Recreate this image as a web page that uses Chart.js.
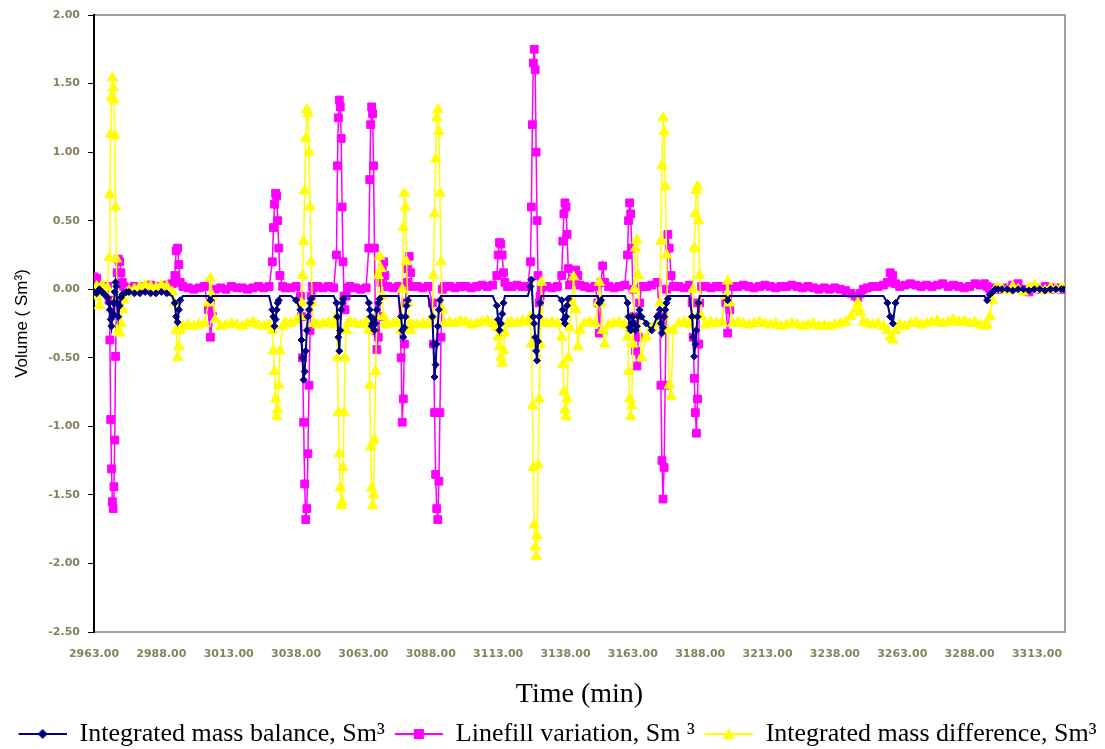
<!DOCTYPE html>
<html>
<head>
<meta charset="utf-8">
<script src="https://cdn.jsdelivr.net/npm/chart.js@4.4.0/dist/chart.umd.min.js"></script>
<style>
  html, body { margin: 0; padding: 0; background: #fff; }
  #wrap { width: 1105px; height: 749px; }
</style>
</head>
<body>
<div id="wrap"><canvas id="canvas" width="1105" height="749"></canvas></div>
<script>
// time (min), one entry per sample, shared by the three series
const times = [
  2963, 2964, 2965, 2966, 2967, 2968, 2968.6,
  2968.9, 2969.2, 2969.5, 2969.8, 2970.1, 2970.4, 2970.7, 2971.0, 2971.3, 2971.6,
  2972, 2972.5, 2973, 2973.5, 2974, 2975, 2976,
  2978, 2980, 2982, 2984, 2986, 2988, 2990, 2992,
  2993, 2993.5, 2994, 2994.5, 2995, 2996,
  2998, 3000, 3002, 3004,
  3005.5, 3006.2, 3007, 3008,
  3010, 3012, 3014, 3016, 3018, 3020, 3022, 3024, 3026, 3028,
  3029.2, 3029.6, 3030, 3030.4, 3030.8, 3031.2, 3031.6, 3032, 3033,
  3034, 3036, 3038,
  3039.6, 3040, 3040.4, 3040.8, 3041.2, 3041.6, 3042, 3042.4, 3042.8, 3043.2, 3043.6, 3044, 3044.5,
  3046, 3048, 3050, 3052,
  3053, 3053.35, 3053.7, 3054.05, 3054.4, 3054.75, 3055.1, 3055.45, 3055.8, 3056.2, 3056.6, 3057.2,
  3058, 3060, 3062, 3064,
  3065, 3065.35, 3065.7, 3066.05, 3066.4, 3066.75, 3067.1, 3067.5, 3068, 3068.5, 3069, 3069.5, 3070, 3070.5, 3071, 3072,
  3074, 3076,
  3077, 3077.4, 3077.8, 3078.2, 3078.6, 3079, 3079.5, 3080, 3080.5, 3081.2,
  3083, 3085, 3087,
  3088.6, 3089, 3089.4, 3089.8, 3090.2, 3090.6, 3091, 3091.4, 3091.8, 3092.3, 3093,
  3095, 3097, 3099, 3101, 3103, 3105, 3107, 3109, 3111,
  3112.5, 3113, 3113.5, 3114, 3114.5, 3115, 3115.5, 3116.5,
  3118, 3120, 3122, 3124,
  3125, 3125.35, 3125.7, 3126.05, 3126.4, 3126.75, 3127.1, 3127.45, 3127.8, 3128.2, 3128.6, 3129, 3129.6,
  3131, 3133, 3135,
  3136.6, 3137, 3137.4, 3137.8, 3138.2, 3138.6, 3139, 3139.5,
  3140.2, 3141, 3141.8, 3142.6, 3143.4,
  3145, 3147, 3149,
  3150, 3150.6, 3151.2, 3151.8, 3152.5,
  3154, 3156, 3158, 3160,
  3161, 3161.4, 3161.8, 3162.2, 3162.6, 3163, 3163.5, 3164, 3164.5, 3165, 3165.5, 3166.2,
  3168, 3170, 3172,
  3173, 3173.4, 3173.8, 3174.2, 3174.6, 3175, 3175.5, 3176, 3176.5, 3177.2, 3178,
  3180, 3182, 3184,
  3185, 3185.4, 3185.8, 3186.2, 3186.6, 3187, 3187.4, 3187.8, 3188.5,
  3190, 3192, 3194, 3196,
  3197.5, 3198.2, 3199, 3200,
  3202, 3204, 3206, 3208, 3210, 3212, 3214, 3216, 3218, 3220, 3222,
  3224, 3226, 3228, 3230, 3232, 3234, 3236, 3238, 3240, 3242, 3244,
  3245.5, 3246.5, 3247.5, 3248.5,
  3250, 3252, 3254, 3256,
  3257.5, 3258.5, 3259.5, 3260.5,
  3262, 3264, 3266, 3268, 3270, 3272, 3274, 3276, 3278, 3280, 3282, 3284, 3286, 3288, 3290, 3292,
  3293.5, 3294.5, 3295.5, 3296.5, 3297.5, 3298.5,
  3300, 3302, 3304, 3306, 3308, 3310, 3312, 3314, 3316, 3318, 3320, 3322, 3323
];

// Integrated mass balance, Sm3
const massBalance = [
  -0.02, -0.03, 0.00, -0.02, -0.04, -0.06, -0.10,
  -0.15, -0.22, -0.27, -0.20, -0.18, -0.10, -0.02, 0.05, 0.02, -0.10,
  -0.20, -0.12, -0.06, -0.04, -0.03, -0.02, -0.02,
  -0.03, -0.03, -0.02, -0.03, -0.03, -0.02, -0.03, -0.05,
  -0.10, -0.20, -0.24, -0.15, -0.08, -0.05,
  -0.05, -0.05, -0.05, -0.05,
  -0.05, -0.08, -0.05, -0.05,
  -0.05, -0.05, -0.05, -0.05, -0.05, -0.05, -0.05, -0.05, -0.05, -0.05,
  -0.15, -0.20, -0.27, -0.22, -0.15, -0.10, -0.08, -0.05, -0.05,
  -0.05, -0.05, -0.08,
  -0.15, -0.37, -0.50, -0.66, -0.60, -0.45, -0.30, -0.20, -0.15, -0.10, -0.07, -0.05, -0.05,
  -0.05, -0.05, -0.05, -0.05,
  -0.10, -0.20, -0.35, -0.45, -0.30, -0.15, -0.10, -0.07, -0.05, -0.05, -0.05, -0.05,
  -0.05, -0.05, -0.05, -0.05,
  -0.10, -0.15, -0.20, -0.27, -0.25, -0.22, -0.30, -0.25, -0.15, -0.10, -0.07, -0.05, -0.05, -0.05, -0.05, -0.05,
  -0.05, -0.05,
  -0.20, -0.30, -0.35, -0.28, -0.20, -0.12, -0.08, -0.05, -0.05, -0.05,
  -0.05, -0.05, -0.05,
  -0.20, -0.40, -0.64, -0.55, -0.40, -0.27, -0.15, -0.08, -0.05, -0.05, -0.05,
  -0.05, -0.05, -0.05, -0.05, -0.05, -0.05, -0.05, -0.05, -0.05,
  -0.12, -0.22, -0.30, -0.25, -0.18, -0.10, -0.05, -0.05,
  -0.05, -0.05, -0.05, -0.05,
  0.02, 0.07, -0.05, -0.20, -0.25, -0.35, -0.45, -0.52, -0.38, -0.20, -0.10, -0.05, -0.05,
  -0.05, -0.05, -0.05,
  -0.08, -0.15, -0.22, -0.25, -0.20, -0.12, -0.07, -0.05,
  -0.05, -0.05, -0.05, -0.05, -0.05,
  -0.05, -0.05, -0.05,
  -0.05, -0.10, -0.08, -0.05, -0.05,
  -0.05, -0.05, -0.05, -0.05,
  -0.10, -0.20, -0.28, -0.30, -0.25, -0.20, -0.25, -0.30, -0.27, -0.20, -0.15, -0.20,
  -0.25, -0.30, -0.20,
  -0.15, -0.25, -0.32, -0.28, -0.20, -0.15, -0.10, -0.07, -0.05, -0.05, -0.05,
  -0.05, -0.05, -0.05,
  -0.20, -0.35, -0.49, -0.40, -0.30, -0.20, -0.10, -0.05, -0.05,
  -0.05, -0.05, -0.05, -0.05,
  -0.05, -0.08, -0.05, -0.05,
  -0.05, -0.05, -0.05, -0.05, -0.05, -0.05, -0.05, -0.05, -0.05, -0.05, -0.05,
  -0.05, -0.05, -0.05, -0.05, -0.05, -0.05, -0.05, -0.05, -0.05, -0.05, -0.05,
  -0.05, -0.05, -0.05, -0.05,
  -0.05, -0.05, -0.05, -0.05,
  -0.10, -0.20, -0.25, -0.10,
  -0.05, -0.05, -0.05, -0.05, -0.05, -0.05, -0.05, -0.05, -0.05, -0.05, -0.05, -0.05, -0.05, -0.05, -0.05, -0.05,
  -0.05, -0.08, -0.04, -0.02, 0.00, 0.00,
  0.00, 0.00, -0.01, 0.00, 0.00, -0.01, 0.00, 0.00, -0.01, 0.00, 0.00, 0.00, 0.00
];

// Linefill variation, Sm3
const linefill = [
  0.09, 0.08, 0.03, 0.02, 0.01, 0.02, -0.08,
  -0.37, -0.95, -1.31, -1.55, -1.60, -1.44, -1.10, -0.49, -0.10, 0.12,
  0.22, 0.20, 0.12, 0.05, 0.02, 0.00, 0.01,
  0.02, 0.01, 0.02, 0.03, 0.02, 0.02, 0.03, 0.04,
  0.10, 0.28, 0.30, 0.18, 0.05, 0.02,
  0.01, 0.00, 0.01, 0.02,
  -0.15, -0.35, -0.20, 0.00,
  0.01, 0.00, 0.02, 0.01, 0.01, 0.00, 0.01, 0.02, 0.01, 0.02,
  0.20, 0.45, 0.62, 0.70, 0.68, 0.50, 0.30, 0.10, 0.02,
  0.01, 0.01, 0.02,
  -0.05, -0.20, -0.50, -0.97, -1.42, -1.68, -1.60, -1.20, -0.70, -0.30, -0.05, 0.02, 0.01,
  0.02, 0.01, 0.02, 0.01,
  0.25, 0.90, 1.25, 1.38, 1.33, 1.10, 0.60, 0.20, -0.05, -0.15, -0.05, 0.01,
  0.02, 0.01, 0.00, 0.01,
  0.30, 0.80, 1.20, 1.33, 1.28, 0.90, 0.30, -0.30, -0.44, -0.35, -0.20, 0.05, 0.15, 0.20, 0.10, 0.02,
  0.01, 0.02,
  -0.50, -0.97, -0.80, -0.40, -0.10, 0.05, 0.15, 0.24, 0.12, 0.02,
  0.02, 0.01, 0.02,
  -0.10, -0.40, -0.90, -1.35, -1.60, -1.68, -1.40, -0.90, -0.35, 0.00, 0.02,
  0.02, 0.01, 0.02, 0.02, 0.01, 0.02, 0.03, 0.02, 0.03,
  0.10, 0.25, 0.34, 0.33, 0.25, 0.12, 0.05, 0.02,
  0.02, 0.03, 0.02, 0.02,
  0.20, 0.60, 1.20, 1.65, 1.75, 1.60, 1.00, 0.50, 0.10, -0.10, -0.05, 0.01, 0.02,
  0.02, 0.01, 0.02,
  0.10, 0.35, 0.55, 0.63, 0.60, 0.40, 0.15, 0.03,
  0.05, 0.08, 0.14, 0.10, 0.03,
  0.02, 0.01, 0.02,
  -0.10, -0.32, 0.05, 0.17, 0.05,
  0.02, 0.01, 0.02, 0.03,
  0.25, 0.50, 0.63, 0.55, 0.30, 0.00, -0.20, -0.45, -0.56, -0.35, -0.10, 0.02,
  0.02, 0.03, 0.05,
  -0.20, -0.70, -1.25, -1.53, -1.30, -0.70, 0.00, 0.40, 0.30, 0.10, 0.02,
  0.02, 0.01, 0.03,
  -0.10, -0.35, -0.65, -0.90, -1.05, -0.80, -0.40, -0.10, 0.02,
  0.02, 0.01, 0.02, 0.02,
  -0.10, -0.32, -0.15, 0.02,
  0.02, 0.03, 0.02, 0.01, 0.02, 0.03, 0.02, 0.01, 0.02, 0.02, 0.03,
  0.02, 0.01, 0.02, 0.01, 0.00, 0.01, 0.00, 0.01, 0.00, -0.01, -0.03,
  -0.05, -0.06, -0.03, 0.00,
  0.01, 0.02, 0.02, 0.03,
  0.05, 0.12, 0.10, 0.04,
  0.02, 0.03, 0.04, 0.03, 0.02, 0.03, 0.02, 0.03, 0.04, 0.02, 0.03, 0.02, 0.01, 0.02, 0.04, 0.03,
  0.04, 0.02, 0.00, 0.00, 0.01, 0.00,
  0.00, 0.01, 0.03, 0.04, 0.00, -0.02, 0.01, 0.00, 0.02, 0.00, 0.01, 0.00, 0.00
];

// Integrated mass difference, Sm3
const massDiff = [
  -0.05, 0.02, -0.12, 0.03, -0.03, 0.01, 0.23,
  0.69, 1.13, 1.40, 1.54, 1.47, 1.38, 1.12, 0.60, 0.22, -0.05,
  -0.30, -0.32, -0.25, -0.15, -0.08, -0.03, -0.01,
  0.00, 0.02, 0.03, 0.02, 0.01, 0.03, 0.02, -0.02,
  -0.10, -0.30, -0.50, -0.42, -0.30, -0.27,
  -0.26, -0.27, -0.26, -0.25,
  -0.10, 0.08, -0.05, -0.22,
  -0.27, -0.26, -0.25, -0.26, -0.27, -0.25, -0.24, -0.26, -0.27, -0.26,
  -0.30, -0.45, -0.60, -0.80, -0.93, -0.88, -0.70, -0.45, -0.27,
  -0.24, -0.25, -0.23,
  -0.20, -0.10, 0.10, 0.35, 0.72, 1.10, 1.31, 1.28, 1.00, 0.60, 0.20, -0.10, -0.25,
  -0.26, -0.25, -0.24, -0.26,
  -0.20, -0.50, -0.90, -1.20, -1.45, -1.58, -1.55, -1.30, -0.90, -0.50, -0.30, -0.25,
  -0.24, -0.25, -0.26, -0.24,
  -0.30, -0.70, -1.15, -1.45, -1.58, -1.50, -1.10, -0.60, -0.20, 0.10, 0.24, 0.15, -0.05, -0.20, -0.25, -0.26,
  -0.25, -0.24,
  -0.30, 0.00, 0.45, 0.70, 0.60, 0.20, -0.10, -0.25, -0.30, -0.26,
  -0.26, -0.25, -0.26,
  -0.20, 0.10, 0.55, 0.95, 1.25, 1.31, 1.15, 0.70, 0.20, -0.15, -0.25,
  -0.24, -0.25, -0.23, -0.24, -0.26, -0.25, -0.24, -0.23, -0.25,
  -0.28, -0.35, -0.42, -0.50, -0.54, -0.45, -0.32, -0.25,
  -0.24, -0.25, -0.23, -0.24,
  -0.20, -0.40, -0.85, -1.30, -1.72, -1.88, -1.95, -1.80, -1.28, -0.80, -0.40, 0.05, -0.25,
  -0.25, -0.24, -0.25,
  -0.35, -0.55, -0.75, -0.88, -0.93, -0.80, -0.50, -0.28,
  -0.10, 0.09, -0.15, -0.42, -0.30,
  -0.25, -0.24, -0.25,
  -0.10, 0.05, -0.10, -0.30, -0.40,
  -0.26, -0.25, -0.24, -0.26,
  -0.35, -0.60, -0.80, -0.93, -0.85, -0.40, 0.00, 0.30, 0.36, 0.10, -0.20, -0.50,
  -0.35, -0.28, -0.25,
  -0.10, 0.35, 0.90, 1.25, 1.15, 0.75, 0.25, -0.30, -0.70, -0.78, -0.30,
  -0.25, -0.24, -0.26,
  -0.20, 0.00, 0.30, 0.55, 0.72, 0.75, 0.50, 0.10, -0.20,
  -0.26, -0.24, -0.25, -0.24,
  -0.05, 0.06, -0.10, -0.25,
  -0.24, -0.25, -0.26, -0.25, -0.24, -0.25, -0.26, -0.25, -0.27, -0.26, -0.25,
  -0.26, -0.27, -0.26, -0.25, -0.27, -0.26, -0.27, -0.26, -0.25, -0.24, -0.20,
  -0.15, -0.10, -0.17, -0.24,
  -0.25, -0.26, -0.25, -0.27,
  -0.30, -0.35, -0.37, -0.30,
  -0.26, -0.27, -0.25, -0.24, -0.26, -0.25, -0.24, -0.23, -0.25, -0.24, -0.22, -0.24, -0.23, -0.25, -0.24, -0.26,
  -0.27, -0.26, -0.20, -0.08, 0.00, 0.01,
  0.00, -0.01, 0.02, 0.00, -0.02, 0.01, 0.03, 0.00, -0.01, 0.01, 0.00, 0.01, 0.00
];

const seriesNames = ['Integrated mass balance, Sm\u00b3', 'Linefill variation, Sm \u00b3', 'Integrated mass difference, Sm\u00b3'];
const xTickValues = [2963, 2988, 3013, 3038, 3063, 3088, 3113, 3138, 3163, 3188, 3213, 3238, 3263, 3288, 3313];

const tickColor = '#86825c';
const borderGray = '#a0a0a0';
const tickFont = { family: 'DejaVu Sans', size: 11, weight: 'bold' };

function toPoints(vals) {
    return times.map((t, i) => ({x: t, y: vals[i]}));
}

// small line + marker pictures for the legend (a little blank space on the left)
function legendIcon(color, shape) {
    let c = document.createElement('canvas');
    c.width = 58;
    c.height = 16;
    let g = c.getContext('2d');
    g.strokeStyle = color;
    g.fillStyle = color;
    g.lineWidth = 2;
    g.beginPath();
    g.moveTo(10, 8);
    g.lineTo(58, 8);
    g.stroke();
    g.beginPath();
    if (shape === 'rect') {
        g.rect(29, 3, 10, 10);
    } else if (shape === 'triangle') {
        g.moveTo(34, 2); g.lineTo(40, 13); g.lineTo(28, 13); g.closePath();
    } else {
        g.moveTo(34, 3); g.lineTo(39, 8); g.lineTo(34, 13); g.lineTo(29, 8); g.closePath();
    }
    g.fill();
    return c;
}

const icons = [legendIcon('#000080', 'diamond'), legendIcon('#ff00ff', 'rect'), legendIcon('#ffff00', 'triangle')];

let chart;
let ctx = document.getElementById('canvas');
chart = new Chart(ctx, {
    type: 'line',
    data: {
        datasets: [{
            label: seriesNames[0],
            data: toPoints(massBalance),
            borderColor: '#000080',
            backgroundColor: '#000080',
            borderWidth: 2,
            pointStyle: 'rectRot',
            // markers only where the balance leaves its flat level
            pointRadius: c => (c.raw && c.raw.y === -0.05 ? 0 : 3.5),
            pointBorderWidth: 1,
            order: 0
        }, {
            label: seriesNames[1],
            data: toPoints(linefill),
            borderColor: '#ff00ff',
            backgroundColor: '#ff00ff',
            borderWidth: 1.5,
            pointStyle: 'rect',
            pointRadius: 5.5,
            pointBorderWidth: 1,
            order: 2
        }, {
            label: seriesNames[2],
            data: toPoints(massDiff),
            borderColor: '#ffff00',
            backgroundColor: '#ffff00',
            borderWidth: 1.5,
            pointStyle: 'triangle',
            pointRadius: 6,
            pointBorderWidth: 1,
            order: 1
        }]
    },
    options: {
        responsive: false,
        animation: false,
        layout: { padding: { top: 0, left: 0, right: 0, bottom: -8 } },
        plugins: {
            tooltip: { enabled: false },
            legend: {
                position: 'bottom',
                labels: {
                    usePointStyle: true,
                    pointStyleWidth: 58,
                    padding: 0,
                    color: '#000',
                    font: { family: 'Liberation Serif', size: 26 },
                    sort: (a, b) => a.datasetIndex - b.datasetIndex,
                    generateLabels: function (c) {
                        let items = Chart.defaults.plugins.legend.labels.generateLabels(c);
                        items.forEach(function (it) { it.pointStyle = icons[it.datasetIndex]; });
                        return items;
                    }
                }
            }
        },
        scales: {
            x: {
                type: 'linear',
                position: 'bottom',
                min: 2963,
                max: 3323.4,
                afterBuildTicks: function (s) { s.ticks = xTickValues.map(v => ({value: v})); },
                afterFit: function (s) { s.height = 89; },
                ticks: {
                    autoSkip: false,
                    maxRotation: 0,
                    padding: 16,
                    color: tickColor,
                    font: tickFont,
                    callback: v => Number(v).toFixed(2)
                },
                grid: { display: false, drawTicks: false },
                border: { color: borderGray, width: 2 },
                title: {
                    display: true,
                    text: 'Time (min)',
                    color: '#000',
                    font: { family: 'Liberation Serif', size: 28 },
                    padding: { top: 0, bottom: 10 }
                }
            },
            x2: {
                type: 'linear',
                position: 'top',
                afterFit: function (s) { s.height = 15; },
                ticks: { display: false },
                grid: { display: false, drawTicks: false },
                border: { color: borderGray, width: 2 }
            },
            y: {
                min: -2.5,
                max: 2,
                afterFit: function (s) { s.width = 94; },
                ticks: {
                    stepSize: 0.5,
                    padding: 8,
                    color: tickColor,
                    font: tickFont,
                    callback: v => Number(v).toFixed(2)
                },
                grid: { drawOnChartArea: false, tickLength: 6, color: '#000' },
                border: { color: '#000', width: 2 },
                title: {
                    display: true,
                    text: 'Volume ( Sm\u00b3)',
                    color: '#000',
                    font: { family: 'Liberation Sans', size: 17 },
                    padding: { top: 12, bottom: 0 }
                }
            },
            y2: {
                position: 'right',
                afterFit: function (s) { s.width = 40; },
                ticks: { display: false },
                grid: { display: false, drawTicks: false },
                border: { color: borderGray, width: 2 }
            }
        }
    }
});
</script>
</body>
</html>
